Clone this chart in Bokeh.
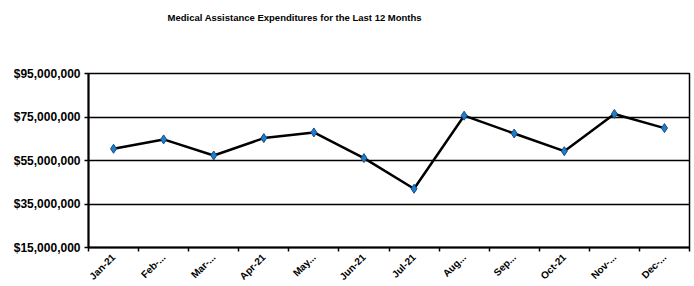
from math import pi
from bokeh.plotting import figure
from bokeh.models import FixedTicker, NumeralTickFormatter, Range1d, ColumnDataSource, Title
from bokeh.embed import file_html
from bokeh.resources import INLINE

months = ["Jan-21", "Feb-...", "Mar-...", "Apr-21", "May...", "Jun-21",
          "Jul-21", "Aug...", "Sep...", "Oct-21", "Nov-...", "Dec-..."]
expenditures = [60400000, 64700000, 57300000, 65300000, 67900000, 56100000,
                42000000, 75600000, 67400000, 59300000, 76400000, 69900000]
y_ticks = [15000000, 35000000, 55000000, 75000000, 95000000]
title_text = "Medical Assistance Expenditures for the Last 12 Months"

xpos = [i + 0.5 for i in range(len(months))]
src = ColumnDataSource(dict(x=xpos, y=expenditures))

FONT = "Liberation Sans"

p = figure(frame_width=601, frame_height=174, output_backend="svg", toolbar_location=None,
           x_range=Range1d(0, len(months)), y_range=Range1d(y_ticks[0], y_ticks[-1]),
           min_border_left=88, min_border_right=5, min_border_top=73, min_border_bottom=0)

p.title.text = title_text
p.title.text_font = FONT
p.title.text_font_size = "9.5px"
p.title.text_font_style = "bold"
p.title.text_color = "black"
p.title.align = "left"
p.title.offset = 79
p.title.standoff = 0

# invisible spacer between title and plot area
spacer = Title(text=" ", text_font_size="10px", standoff=38)
p.add_layout(spacer, "above")

p.outline_line_color = "black"
p.outline_line_width = 1.5

p.line("x", "y", source=src, line_color="black", line_width=2.5)
p.scatter("x", "y", source=src, marker="diamond", size=9,
          fill_color="#1a7fd0", line_color="#1b4a80", line_width=1)

# y axis
p.yaxis.ticker = FixedTicker(ticks=y_ticks, minor_ticks=[])
p.yaxis.formatter = NumeralTickFormatter(format="$0,0")
p.yaxis.major_label_text_font = FONT
p.yaxis.major_label_text_font_size = "12px"
p.yaxis.major_label_text_font_style = "bold"
p.yaxis.major_label_text_color = "black"
p.yaxis.axis_line_color = "black"
p.yaxis.axis_line_width = 2
p.yaxis.major_tick_line_color = "black"
p.yaxis.major_tick_line_width = 1.5
p.yaxis.major_tick_out = 4
p.yaxis.major_tick_in = 0
p.yaxis.major_label_standoff = 4

# x axis: labels at centres, ticks at boundaries
p.xaxis.ticker = FixedTicker(ticks=xpos, minor_ticks=list(range(len(months) + 1)))
p.xaxis.major_label_overrides = {x: m for x, m in zip(xpos, months)}
p.xaxis.major_label_orientation = pi / 4
p.xaxis.major_label_text_font = FONT
p.xaxis.major_label_text_font_size = "10px"
p.xaxis.major_label_text_font_style = "bold"
p.xaxis.major_label_text_color = "black"
p.xaxis.major_tick_line_color = None
p.xaxis.minor_tick_line_color = "black"
p.xaxis.minor_tick_line_width = 1.5
p.xaxis.minor_tick_out = 4
p.xaxis.minor_tick_in = 0
p.xaxis.axis_line_color = "black"
p.xaxis.axis_line_width = 2
p.xaxis.major_label_standoff = 2

p.xgrid.grid_line_color = None
p.ygrid.ticker = FixedTicker(ticks=y_ticks)
p.ygrid.grid_line_color = "black"
p.ygrid.grid_line_width = 1.5

open("out.html", "w").write(file_html(p, INLINE))
